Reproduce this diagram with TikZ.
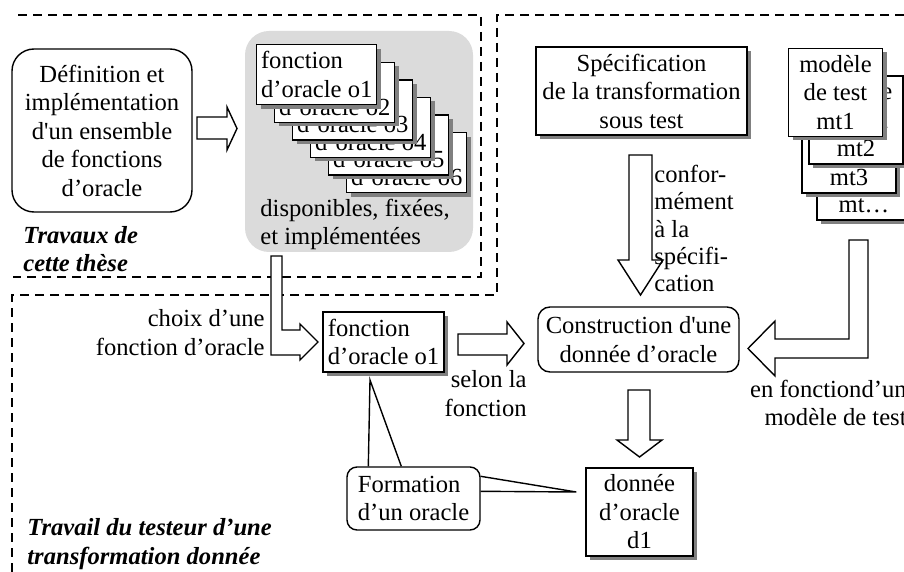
\documentclass[tikz,border=0pt]{standalone}
\usepackage{fontspec}
\setmainfont{Liberation Serif}
\usetikzlibrary{shadows,calc}
\newcommand{\taille}{\fontsize{12.3}{14.25}\selectfont}
\newcommand{\apos}{\textquotesingle}
\tikzset{
  zone/.style={dashed, dash pattern=on 4.5pt off 3pt, line width=1pt},
  ombre/.style={drop shadow={shadow xshift=2pt, shadow yshift=-2pt, fill=black!50, opacity=1}},
  boite/.style={draw, fill=white, line width=0.7pt, inner xsep=1pt, inner ysep=1pt, align=center, ombre},
  carte/.style={boite, align=left, minimum width=60pt, minimum height=30pt},
  mt/.style={boite, minimum width=47pt, minimum height=44pt},
  arrondi/.style={draw, fill=white, line width=0.7pt, rounded corners=6pt, inner xsep=1pt, align=center},
  fleche/.style={draw, fill=white, line width=0.7pt, line join=miter},
  trait/.style={line width=0.7pt},
  texte/.style={inner sep=0pt},
  titre/.style={inner sep=0pt, align=left, font=\taille\bfseries\itshape}
}

\begin{document}
\begin{tikzpicture}[x=0.5pt, y=-0.5pt, font=\taille]
    \useasboundingbox (0,0) rectangle (904,572);
    % les deux zones
    \draw[zone] (18,15) -- (481,15) -- (481,277) -- (13,277);
    \draw[zone] (904,15) -- (497,15) -- (497,295) -- (12,295) -- (12,572);

    % travaux de cette these
    \node[arrondi, rounded corners=11pt, minimum width=90pt, minimum height=81.5pt] (defn) at (102,130.5)
        {Définition et\\implémentation\\d\apos un ensemble\\de fonctions\\d’oracle};
    \node[fill=black!14, rounded corners=12pt, minimum width=114pt, minimum height=110.5pt] (dispo) at (359,141.5) {};
    \foreach \k in {6,5,...,1}
        \node[carte, anchor=north west] (o\k) at ({256+18*(\k-1)},{44+17.6*(\k-1)}) {fonction\\d’oracle o\k};
    \node[texte, anchor=west, align=left] (dispotxt) at (260,224.5) {disponibles, fixées,\\et implémentées};
    \node[titre, anchor=west] (travaux) at (23,249) {Travaux de\\cette thèse};
    \draw[fleche] (197,117) -- (227,117) -- (227,107) -- (237,128.5) -- (227,150) -- (227,139) -- (197,139) -- cycle;

    % specification et modeles de test
    \node[boite, minimum width=105.5pt, minimum height=44pt] (spec) at (641.5,91)
        {Spécification\\de la transformation\\sous test};
    \node[mt] (mt4) at (864,176) {\phantom{modèle}\\\phantom{de test}\\mt…};
    \node[mt] (mt3) at (849,149) {\phantom{modèle}\\\phantom{de test}\\mt3};
    \node[mt] (mt2) at (856,120) {modèle\\de test\\mt2};
    \node[mt] (mt1) at (835.5,92.5) {modèle\\de test\\mt1};
    \draw[fleche] (629,155) -- (652,155) -- (652,260) -- (663,260) -- (640.5,295) -- (618,260) -- (629,260) -- cycle;
    \node[texte, anchor=west, align=left, font=\fontsize{12.3}{13.6}\selectfont] (conf) at (654,228.5)
        {confor-\\mément\\à la\\spécifi-\\cation};
    \draw[fleche] (849,240) -- (868,240) -- (868,358) -- (775,358) -- (775,376) -- (748,348.5) -- (775,321) -- (775,339) -- (849,339) -- cycle;
    \node[texte, anchor=east, align=right] (enf) at (907,403) {en fonctiond’un\\modèle de test};

    % travail du testeur
    \node[arrondi, minimum width=100.5pt, minimum height=32.5pt] (constr) at (638.5,339.5)
        {Construction d\apos une\\donnée d’oracle};
    \draw[fleche] (628,390) -- (650,390) -- (650,440) -- (662,440) -- (639.5,457) -- (617,440) -- (628,440) -- cycle;
    \node[boite, minimum width=53.5pt, minimum height=44pt] (d1) at (639.5,512) {donnée\\d’oracle\\d1};
    \node[carte, minimum width=60.5pt] (fo) at (383.5,342) {fonction\\d’oracle o1};
    \draw[fleche] (271,256) -- (282,256) -- (282,330) -- (300,330) -- (300,324) -- (318,342) -- (300,360) -- (300,355) -- (271,355) -- cycle;
    \node[texte, anchor=east, align=right] (choix) at (265,332.5) {choix d’une\\fonction d’oracle};
    \draw[fleche] (458,334) -- (507,334) -- (507,322) -- (524,343.5) -- (507,365) -- (507,355) -- (458,355) -- cycle;
    \node[texte, anchor=east, align=right] (selon) at (527,393.5) {selon la\\fonction};

    % bulle
    \node[arrondi, rounded corners=5pt, align=left, minimum width=66.5pt, minimum height=31.5pt] (form) at (413.5,498.5)
        {Formation\\d’un oracle};
    \coordinate (pointeA) at (370,380);
    \coordinate (pointeB) at ($(d1.west)+(-9,-20)$);
    \draw[trait] ($(form.north west)+(22,0)$) -- (pointeA) -- ($(form.north west)+(55,0)$);
    \draw[trait] ($(form.north east)+(0,10)$) -- (pointeB) -- ($(form.north east)+(0,25)$);
    \node[titre, anchor=west] (travail) at (27,544) {Travail du testeur d’une\\transformation donnée};
\end{tikzpicture}
\end{document}
